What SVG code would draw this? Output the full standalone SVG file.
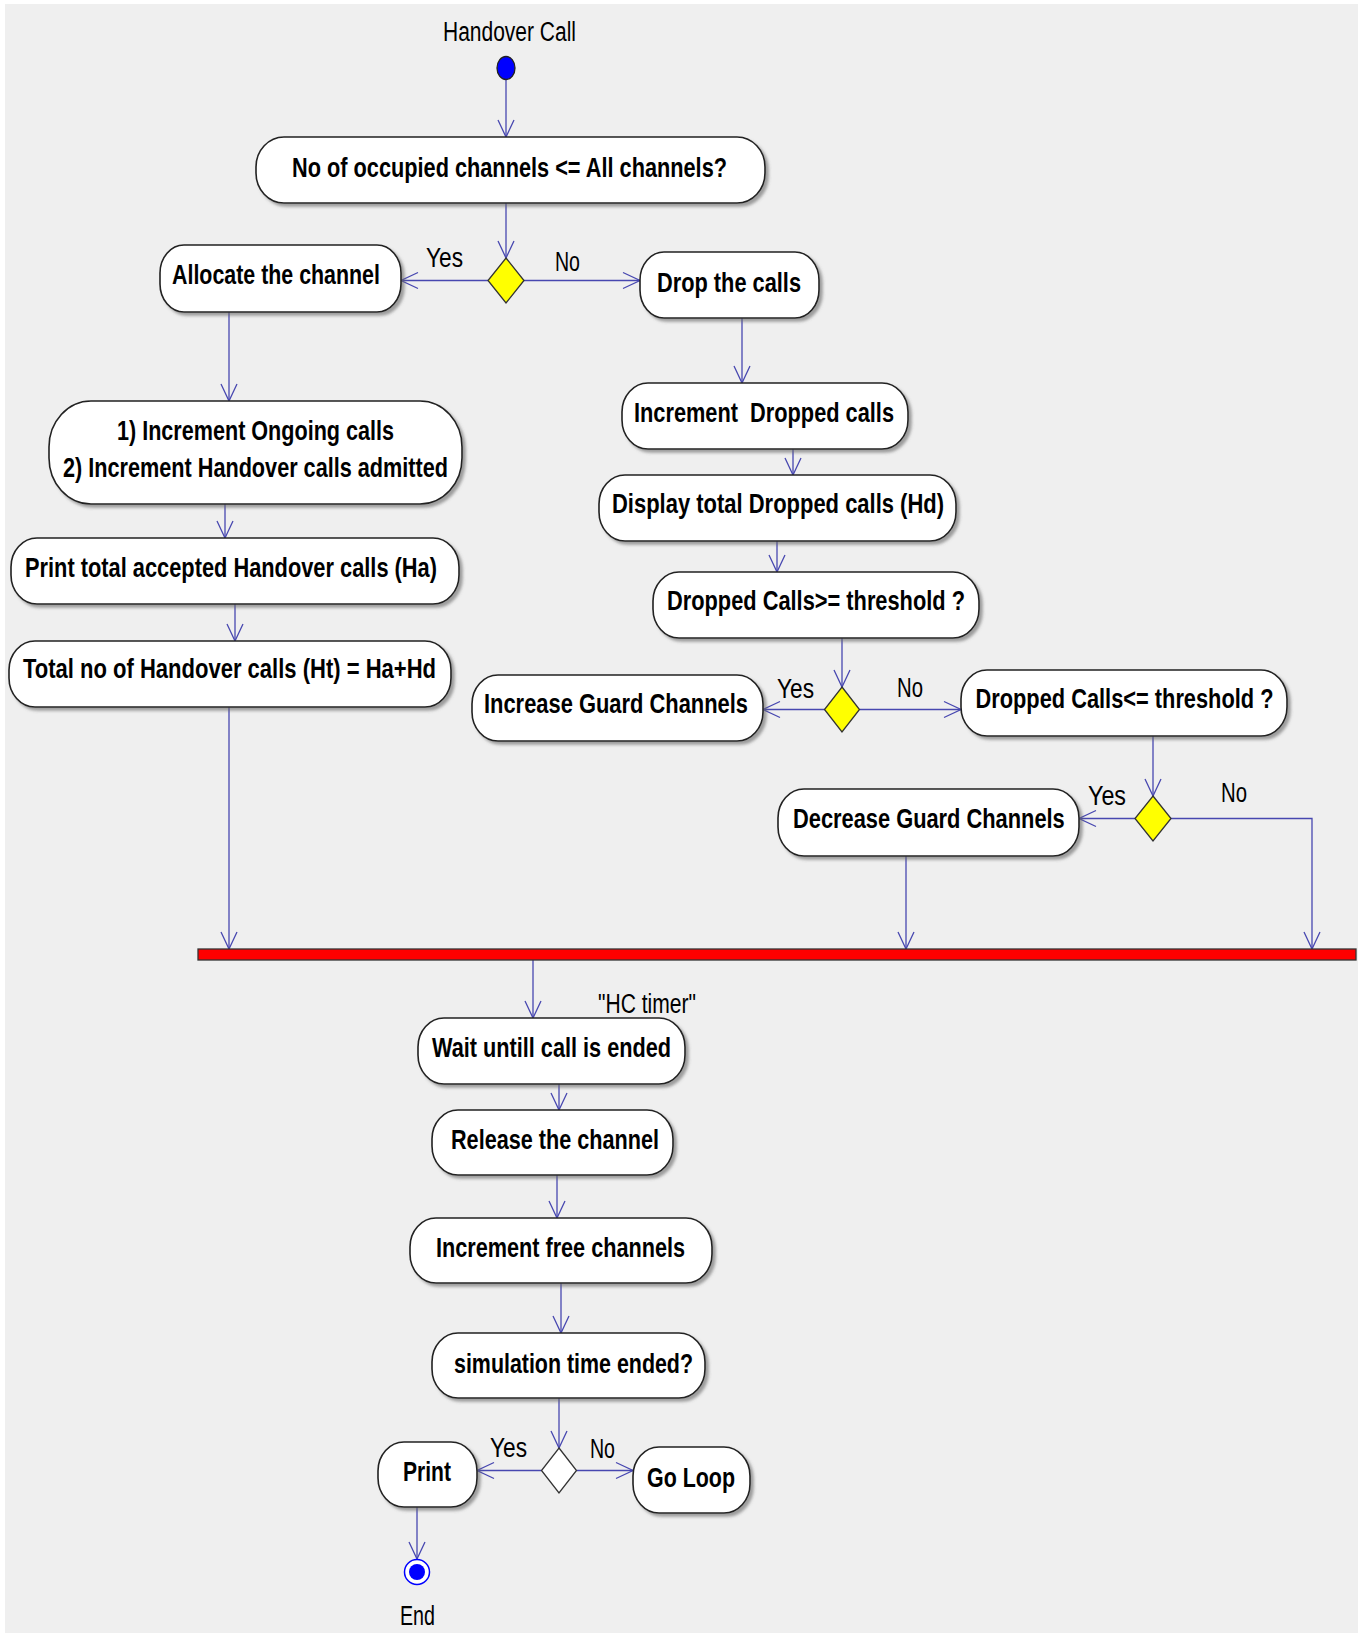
<svg xmlns="http://www.w3.org/2000/svg" width="1363" height="1633" viewBox="0 0 1363 1633">
<defs>
<style>
.bg{fill:#efefef}
.act{fill:#ffffff;stroke:#222222;stroke-width:1.6;filter:url(#sh)}
.dia{fill:#ffff00;stroke:#333333;stroke-width:1.3}
.diaw{fill:#ffffff;stroke:#333333;stroke-width:1.3}
.t{font-family:"Liberation Sans",Arial,sans-serif;font-size:28px;font-weight:bold;fill:#000}
.l{font-family:"Liberation Sans",Arial,sans-serif;font-size:27px;fill:#000}
.c{fill:none;stroke:#4747b0;stroke-width:1.3}
</style>
<filter id="sh" x="-10%" y="-20%" width="120%" height="150%">
<feDropShadow dx="3" dy="3" stdDeviation="1.5" flood-color="#666666" flood-opacity="0.6"/>
</filter>
<marker id="arr" viewBox="-19 -10 21 20" refX="0" refY="0" markerWidth="21" markerHeight="20" markerUnits="userSpaceOnUse" orient="auto">
<path d="M-17,-8 L0,0 L-17,8" fill="none" stroke="#4747b0" stroke-width="1.3"/>
</marker>
</defs>
<rect class="bg" x="5" y="4" width="1353" height="1629"/>

<g id="connectors">
<path class="c" d="M506,80 V137" marker-end="url(#arr)"/>
<path class="c" d="M506,203 V258" marker-end="url(#arr)"/>
<path class="c" d="M488,280.5 H401" marker-end="url(#arr)"/>
<path class="c" d="M524,280.5 H640" marker-end="url(#arr)"/>
<path class="c" d="M229,312 V401" marker-end="url(#arr)"/>
<path class="c" d="M225,504 V538" marker-end="url(#arr)"/>
<path class="c" d="M235,604 V641" marker-end="url(#arr)"/>
<path class="c" d="M229,707 V949" marker-end="url(#arr)"/>
<path class="c" d="M742,318 V383" marker-end="url(#arr)"/>
<path class="c" d="M793,449 V475" marker-end="url(#arr)"/>
<path class="c" d="M777,541 V572" marker-end="url(#arr)"/>
<path class="c" d="M842,638 V687" marker-end="url(#arr)"/>
<path class="c" d="M825,709.5 H763" marker-end="url(#arr)"/>
<path class="c" d="M860,709.5 H961" marker-end="url(#arr)"/>
<path class="c" d="M1153,736 V796" marker-end="url(#arr)"/>
<path class="c" d="M1136,818.5 H1079" marker-end="url(#arr)"/>
<path class="c" d="M1171,818.5 H1312 V949" marker-end="url(#arr)"/>
<path class="c" d="M906,856 V949" marker-end="url(#arr)"/>
<path class="c" d="M533,960 V1018" marker-end="url(#arr)"/>
<path class="c" d="M559,1084 V1110" marker-end="url(#arr)"/>
<path class="c" d="M557,1175 V1218" marker-end="url(#arr)"/>
<path class="c" d="M561,1283 V1333" marker-end="url(#arr)"/>
<path class="c" d="M559,1398 V1448" marker-end="url(#arr)"/>
<path class="c" d="M541.5,1470.5 H477" marker-end="url(#arr)"/>
<path class="c" d="M576.5,1470.5 H633" marker-end="url(#arr)"/>
<path class="c" d="M417,1507 V1559" marker-end="url(#arr)"/>
</g>

<g id="start">
<ellipse cx="506" cy="68" rx="9" ry="11.5" fill="#0000ff" stroke="#222222" stroke-width="1.3"/>
<text class="l" x="443" y="41" textLength="133" lengthAdjust="spacingAndGlyphs">Handover Call</text>
</g>

<g id="n_occupied">
<rect class="act" x="256" y="137" width="509" height="66" rx="28" ry="30"/>
<text class="t" x="292" y="177" textLength="435" lengthAdjust="spacingAndGlyphs">No of occupied channels &lt;= All channels?</text>
</g>

<g id="d1">
<polygon class="dia" points="506,258 524,280.5 506,303 488,280.5"/>
<text class="l" x="426" y="267" textLength="37" lengthAdjust="spacingAndGlyphs">Yes</text>
<text class="l" x="555" y="271" textLength="25" lengthAdjust="spacingAndGlyphs">No</text>
</g>

<g id="n_allocate">
<rect class="act" x="160" y="245" width="241" height="67" rx="24" ry="28"/>
<text class="t" transform="translate(172,284) scale(0.764,1)">Allocate the channel</text>
</g>

<g id="n_drop">
<rect class="act" x="640" y="252" width="179" height="66" rx="24" ry="28"/>
<text class="t" x="657" y="291.5" textLength="144" lengthAdjust="spacingAndGlyphs">Drop the calls</text>
</g>

<g id="n_increment">
<rect class="act" x="49" y="401" width="413" height="103" rx="42" ry="46"/>
<text class="t" x="117" y="440" textLength="277" lengthAdjust="spacingAndGlyphs">1) Increment Ongoing calls</text>
<text class="t" x="63" y="477" textLength="385" lengthAdjust="spacingAndGlyphs">2) Increment Handover calls admitted</text>
</g>

<g id="n_printtotal">
<rect class="act" x="11" y="538" width="448" height="66" rx="26" ry="29"/>
<text class="t" x="25" y="577" textLength="412" lengthAdjust="spacingAndGlyphs">Print total accepted Handover calls (Ha)</text>
</g>

<g id="n_total">
<rect class="act" x="9" y="641" width="442" height="66" rx="26" ry="29"/>
<text class="t" x="23" y="678" textLength="413" lengthAdjust="spacingAndGlyphs">Total no of Handover calls (Ht) = Ha+Hd</text>
</g>

<g id="n_incdropped">
<rect class="act" x="622" y="383" width="286" height="66" rx="26" ry="29"/>
<text class="t" x="634" y="421.5" textLength="260" lengthAdjust="spacingAndGlyphs" xml:space="preserve">Increment  Dropped calls</text>
</g>

<g id="n_display">
<rect class="act" x="599" y="475" width="357" height="66" rx="26" ry="29"/>
<text class="t" x="612" y="513" textLength="332" lengthAdjust="spacingAndGlyphs">Display total Dropped calls (Hd)</text>
</g>

<g id="n_ge">
<rect class="act" x="653" y="572" width="326" height="66" rx="26" ry="29"/>
<text class="t" x="667" y="610" textLength="298" lengthAdjust="spacingAndGlyphs">Dropped Calls&gt;= threshold ?</text>
</g>

<g id="d2">
<polygon class="dia" points="842,687 859.5,709.5 842,732 824.5,709.5"/>
<text class="l" x="777" y="698" textLength="37" lengthAdjust="spacingAndGlyphs">Yes</text>
<text class="l" x="897" y="697" textLength="26" lengthAdjust="spacingAndGlyphs">No</text>
</g>

<g id="n_increase">
<rect class="act" x="472" y="675" width="291" height="66" rx="26" ry="29"/>
<text class="t" transform="translate(484,713) scale(0.782,1)">Increase Guard Channels</text>
</g>

<g id="n_le">
<rect class="act" x="961" y="670" width="326" height="66" rx="26" ry="29"/>
<text class="t" x="975.5" y="708" textLength="298" lengthAdjust="spacingAndGlyphs">Dropped Calls&lt;= threshold ?</text>
</g>

<g id="d3">
<polygon class="dia" points="1153,796 1171,818.5 1153,841 1135,818.5"/>
<text class="l" x="1088" y="805" textLength="38" lengthAdjust="spacingAndGlyphs">Yes</text>
<text class="l" x="1221" y="802" textLength="26" lengthAdjust="spacingAndGlyphs">No</text>
</g>

<g id="n_decrease">
<rect class="act" x="778" y="789" width="301" height="67" rx="26" ry="29"/>
<text class="t" transform="translate(793,828) scale(0.78,1)">Decrease Guard Channels</text>
</g>

<g id="join">
<rect x="198" y="949" width="1158" height="11" fill="#ff0000" stroke="#333333" stroke-width="1.3"/>
</g>

<g id="n_wait">
<rect class="act" x="418" y="1018" width="267" height="66" rx="26" ry="29"/>
<text class="l" x="598" y="1013" textLength="98" lengthAdjust="spacingAndGlyphs">"HC timer"</text>
<text class="t" x="432" y="1057" textLength="239" lengthAdjust="spacingAndGlyphs">Wait untill call is ended</text>
</g>

<g id="n_release">
<rect class="act" x="432" y="1110" width="241" height="65" rx="26" ry="29"/>
<text class="t" x="451" y="1149" textLength="208" lengthAdjust="spacingAndGlyphs">Release the channel</text>
</g>

<g id="n_incfree">
<rect class="act" x="410" y="1218" width="302" height="65" rx="26" ry="29"/>
<text class="t" x="436" y="1257" textLength="249" lengthAdjust="spacingAndGlyphs">Increment free channels</text>
</g>

<g id="n_sim">
<rect class="act" x="432" y="1333" width="273" height="65" rx="26" ry="29"/>
<text class="t" x="454" y="1373" textLength="239" lengthAdjust="spacingAndGlyphs">simulation time ended?</text>
</g>

<g id="d4">
<polygon class="diaw" points="559,1448 576.5,1470.5 559,1493 541.5,1470.5"/>
<text class="l" x="490" y="1457" textLength="37" lengthAdjust="spacingAndGlyphs">Yes</text>
<text class="l" x="590" y="1458" textLength="25" lengthAdjust="spacingAndGlyphs">No</text>
</g>

<g id="n_print">
<rect class="act" x="378" y="1442" width="99" height="65" rx="26" ry="29"/>
<text class="t" x="403" y="1481" textLength="48" lengthAdjust="spacingAndGlyphs">Print</text>
</g>

<g id="n_goloop">
<rect class="act" x="633" y="1447" width="117" height="66" rx="26" ry="29"/>
<text class="t" x="647" y="1487" textLength="88" lengthAdjust="spacingAndGlyphs">Go Loop</text>
</g>

<g id="end">
<circle cx="417" cy="1572" r="12.5" fill="#ffffff" stroke="#0000ff" stroke-width="1.5"/>
<circle cx="417" cy="1572" r="8" fill="#0000ff"/>
<text class="l" x="400" y="1625" textLength="35" lengthAdjust="spacingAndGlyphs">End</text>
</g>
</svg>
